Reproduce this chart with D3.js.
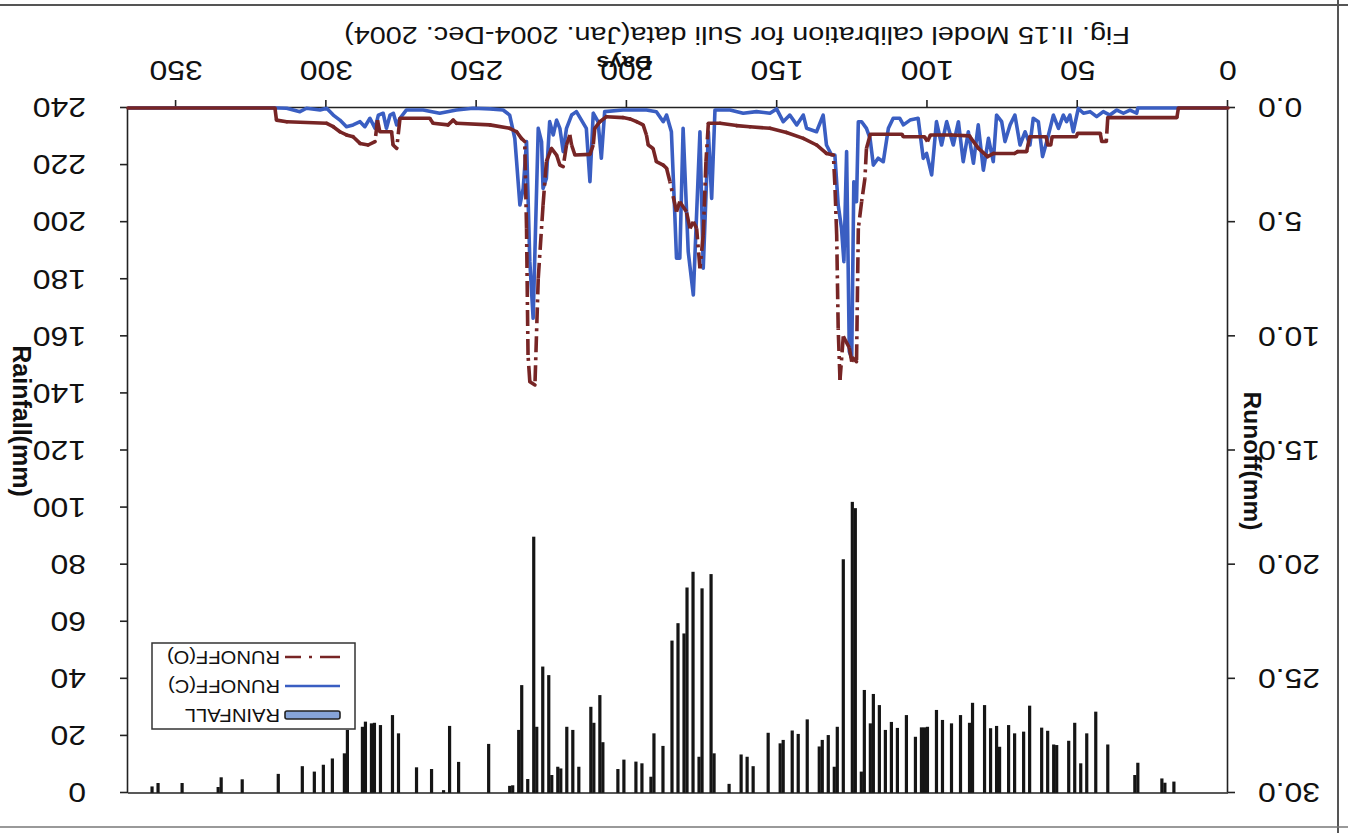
<!DOCTYPE html>
<html>
<head>
<meta charset="utf-8">
<script src="https://cdn.jsdelivr.net/npm/d3@7"></script>
<style>
  body { margin: 0; background: #ffffff; }
  svg { display: block; }
</style>
</head>
<body>
<svg id="chart" width="1348" height="833"></svg>
<script>
// ---- Daily rainfall (mm), only rainy days listed ----
const rainDays = [18,21,22,30,31,40,44,47,49,51,53,57,58,60,62,66,68,71,73,76,77,79,81,85,86,89,92,95,97,100,101,102,104,107,110,112,114,116,118,119,121,122,124,125,128,130,131,133,135,136,140,143,145,148,149,153,158,160,162,166,171,172,175,176,178,180,181,183,185,188,191,192,195,197,201,203,208,209,211,212,216,218,220,222,223,225,226,228,230,231,233,235,236,238,239,246,256,259,261,265,270,276,278,282,284,285,287,288,293,294,298,301,304,308,316,328,335,336,348,356,358];
const rainMm = [4.0,3.6,5.1,10.6,6.3,17,28.5,20.9,10.4,24.6,18.3,16.8,17,21.8,22.9,30.6,21.5,20.9,23.8,16.2,23.5,22.7,30.8,31.6,24.6,27.3,24.4,25.6,29.1,23.2,23,23,19.7,27.3,22.8,24.9,22.1,30.8,34.7,24.4,36.1,7.5,99.8,102,81.9,23.2,9.2,20.3,18.6,16.3,25.8,20.7,21.9,18.6,17.4,21.1,9.4,12.7,13.5,3.2,13.9,76.7,71.7,12.7,77.5,72,55.9,59.5,53.4,16.5,20.9,5.7,10.4,11,11.7,8.4,17.8,34.3,24.6,30.2,9.2,22.1,23.2,8.6,9.2,6.3,41.3,44.3,23.2,89.8,4.9,37.8,22.1,2.7,2.5,17.2,10.9,23.5,1,8.4,9,20.9,27.3,23.8,24.6,24.4,25,23.2,22.1,13.9,12.1,9.9,7.5,9.4,6.7,4.8,5.5,2.1,3.5,3.5,2.3];

// ---- Observed runoff (mm): day, value ----
const obsDays = [0,16.5,17,40,40.5,42,42.5,50,50.5,58.5,59,60,60.5,66,67,70,71,78,80,83,85.5,86,92,99,100,101,108,108.5,119,120.3,120.8,121.9,123,123.6,124.7,125.2,126,128,129.1,129.7,130.2,130.8,131.3,133.6,136.9,141.3,146.9,152.4,159.1,163.5,169,172.9,173.7,174.6,175.7,176.8,177.9,179,180.2,182.4,183.5,185.7,186.8,187.9,190.2,191.3,192.9,193.5,194.6,196.8,199,201.3,206.8,209,210.7,211.2,212.3,217.3,218.4,219,220.1,221.2,222.3,223.4,225.1,226.8,227.9,229.5,230.6,232.3,232.9,233.4,234,235.1,236.7,239,245.6,256.7,257.8,259.5,264.5,265.6,275.5,276.6,277.8,278.3,282.2,283,283.8,286.1,288.8,291.1,293.3,295.5,297.7,299.9,313.2,316.6,317.1,366];
const obsRunoff = [0,0,0.42,0.42,1.47,1.47,1.11,1.11,1.26,1.26,1.62,1.62,1.26,1.26,1.91,1.91,1.99,1.99,2.13,1.77,1.33,1.22,1.18,1.18,1.47,1.26,1.26,1.15,1.15,1.77,3.08,4.1,5.27,11.11,10.96,11.11,10.5,10.0,11.91,9.65,5.56,3.37,2.06,1.99,1.62,1.33,1.07,0.89,0.82,0.77,0.67,0.67,2.35,5.56,7.02,5.27,4.98,5.27,4.54,4.1,4.54,3.22,2.64,2.5,2.35,1.77,1.62,1.18,0.74,0.6,0.48,0.42,0.38,0.6,0.89,1.62,2.03,2.06,1.62,1.18,1.62,2.57,2.5,2.06,1.77,2.35,4.25,7.46,12.13,11.99,10.82,5.27,1.47,1.33,1.04,0.89,0.74,0.67,0.53,0.74,0.67,0.45,0.45,1.77,1.62,1.04,1.04,0.53,1.47,1.62,1.55,1.26,1.18,1.04,0.82,0.67,0.6,0.53,0,0];

// ---- Computed runoff (mm): day, value ----
const calDays = [0,30,30.4,32.6,34.8,37,39.3,41.5,43.7,45.9,48.1,49.8,51.5,52.6,53.7,54.8,56.4,58.1,60.3,61.7,63.1,64.8,65.9,67.5,69.2,70.9,72.5,74.2,75.3,77,78.1,79.7,81.4,83.1,84.7,86.4,88.1,89.7,91.4,93.6,95.3,97,98.6,100.3,101.4,103.1,105.8,108,109.2,111.4,113,114.7,116.4,118,119.1,120.3,121.9,123,123.6,124.5,125.2,126,126.9,127.8,128.6,129.7,130.8,131.9,133.6,134.7,136.9,140.2,141.3,143.5,145.8,148,150.2,152.4,156.9,161.3,165.7,170.7,171.8,172.9,174.6,175.7,177.9,179.6,181.3,182.4,183.5,184.1,185.2,186.8,187.9,190.2,193.5,201.3,207.4,208.5,209.6,211.2,212.3,213.5,216.8,218.4,220.1,221.2,222.3,223.4,224.5,225.7,226.8,227.9,228.4,229.5,231.2,232.3,233.4,234.5,235.6,236.7,237.3,239,241.2,245.6,251.2,256.7,262.3,267.8,273.4,275.5,276.6,277.7,278.8,280,281.1,282.7,283.8,285.5,287.2,288.8,291.1,293.3,295.5,297.7,299.9,302.1,306.6,308.8,313.2,316,366];
const calRunoff = [0,0,0.23,0.09,0.23,0.09,0.31,0.16,0.38,0.16,0.23,0.02,1.04,0.31,0.6,0.31,0.89,0.31,1.47,2.13,0.6,0.45,1.62,1.04,1.62,0.31,0.74,1.47,0.6,0.31,2.35,1.33,2.72,0.74,2.42,1.04,2.35,0.6,1.62,0.6,1.62,0.6,2.93,1.99,2.2,0.45,0.53,0.74,0.45,0.45,0.89,2.35,2.2,2.5,1.33,0.89,0.6,0.6,4.1,3.23,10.96,10.67,1.91,6.73,5.27,4.25,2.06,2.06,1.62,0.31,1.04,0.89,0.31,0.74,0.31,0.6,0.04,0.23,0.16,0.23,0.09,0.09,3.96,1.04,7.02,1.04,8.19,6.29,0.89,6.58,6.58,4.54,1.04,0.31,0.6,0.16,0.09,0.09,0.16,2.2,0.6,0.23,3.23,0.89,0.16,0.31,0.89,1.91,0.89,0.53,1.18,0.6,3.08,3.52,1.47,0.89,9.21,6.73,1.47,3.52,4.25,2.35,1.33,0.31,0.09,0.04,0.01,0.09,0.23,0.09,0.09,0.45,0.74,0.23,0.31,0.89,0.23,0.31,0.89,0.45,0.82,0.6,0.74,0.82,0.53,0.31,0.01,0.09,0.01,0.16,0.01,0,0];

// ---- Axis ticks ----
const dayTicks = [0,50,100,150,200,250,300,350];
const runoffTicks = [0,5,10,15,20,25,30];
const runoffLabels = ["0.0","5.0","10.0","15.0","20.0","25.0","30.0"];
const rainTicks = [0,20,40,60,80,100,120,140,160,180,200,220,240];

const legendLabels = ["RAINFALL","RUNOFF(C)","RUNOFF(O)"];
const titleText = "Fig. II.15  Model calibration for Suli data(Jan. 2004-Dec. 2004)";

// ---- Layout ----
const W = 1348, H = 833;
const plot = { left: 120, right: 1220, top: 40, bottom: 725 };
const FONT = "'Liberation Sans', Arial, sans-serif";
const SX = 1.18;              // horizontal stretch of lettering
const BLUE = "#3a5ec2";
const RED = "#772525";

const svg = d3.select("#chart");
svg.append("rect").attr("width", W).attr("height", H).attr("fill", "#fff");

// the whole figure is printed upside down
const root = svg.append("g").attr("transform", `rotate(180 ${W / 2} ${H / 2})`);

const x = d3.scaleLinear().domain([0, 366]).range([plot.left, plot.right]);
const yRun = d3.scaleLinear().domain([0, 30]).range([plot.bottom, plot.top]);
const yRain = d3.scaleLinear().domain([0, 240]).range([plot.top, plot.bottom]);

// page frame lines
root.append("line").attr("x1", 10).attr("x2", 10).attr("y1", 0).attr("y2", H)
  .attr("stroke", "#555").attr("stroke-width", 2);
root.append("line").attr("x1", 0).attr("x2", W).attr("y1", 828).attr("y2", 828)
  .attr("stroke", "#555").attr("stroke-width", 2);
root.append("line").attr("x1", 0).attr("x2", W).attr("y1", 6).attr("y2", 6)
  .attr("stroke", "#777").attr("stroke-width", 1.5);

function label(g, px, py, str, opt = {}) {
  const sx = opt.sx ?? SX;
  const rot = opt.rotate ? ` rotate(${opt.rotate})` : "";
  return g.append("text")
    .attr("transform", `translate(${px},${py})${rot} scale(${sx},1)`)
    .attr("text-anchor", opt.anchor || "middle")
    .attr("dy", "0.36em")
    .attr("font-family", FONT)
    .attr("font-size", opt.size || 26)
    .attr("font-weight", opt.weight || "normal")
    .attr("fill", "#111")
    .text(str);
}

// ---- Rainfall bars hanging from the top ----
const barW = 3.2;
root.append("g").selectAll("rect")
  .data(rainDays.map((d, i) => ({ day: d, mm: rainMm[i] })))
  .join("rect")
  .attr("x", d => x(d.day) - barW / 2)
  .attr("y", yRain(0))
  .attr("width", barW)
  .attr("height", d => yRain(d.mm) - yRain(0))
  .attr("fill", "#151515");

// ---- Axes ----
const axisStyle = g => {
  g.selectAll("path, line").attr("stroke", "#222").attr("stroke-width", 1.6);
  g.selectAll("text").remove();
};
root.append("g").attr("transform", `translate(${plot.left},0)`)
  .call(d3.axisLeft(yRun).tickValues(runoffTicks).tickSize(7).tickSizeOuter(0))
  .call(axisStyle);
root.append("g").attr("transform", `translate(${plot.right},0)`)
  .call(d3.axisRight(yRain).tickValues(rainTicks).tickSize(8).tickSizeOuter(0))
  .call(axisStyle);
root.append("g").attr("transform", `translate(0,${plot.bottom})`)
  .call(d3.axisBottom(x).tickValues(dayTicks).tickSize(8).tickSizeOuter(0))
  .call(axisStyle);
root.append("line")
  .attr("x1", plot.left).attr("x2", plot.right)
  .attr("y1", plot.top).attr("y2", plot.top)
  .attr("stroke", "#222").attr("stroke-width", 1.6);

// tick labels
runoffTicks.forEach((v, i) => label(root, 90, yRun(v), runoffLabels[i], { anchor: "end", size: 27 }));
rainTicks.forEach(v => label(root, 1262, yRain(v), String(v), { anchor: "start", size: 27 }));
dayTicks.forEach(v => label(root, x(v), 762, String(v), { size: 27 }));

// axis titles
label(root, 95, 372, "Runoff(mm)", { rotate: -90, size: 24.5, weight: "bold", sx: 1 });
label(root, 1326, 412, "Rainfall(mm)", { rotate: -90, size: 25, weight: "bold", sx: 1 });
label(root, 724, 769, "Days", { size: 21, weight: "bold", sx: 1.1 });
label(root, 611, 797, titleText, { size: 24, sx: 1.2 });

// ---- Runoff lines ----
const calPts = calDays.map((d, i) => [x(d), yRun(calRunoff[i])]);
const obsPts = obsDays.map((d, i) => [x(d), yRun(obsRunoff[i])]);

root.append("path")
  .attr("d", d3.line()(calPts))
  .attr("fill", "none").attr("stroke", BLUE)
  .attr("stroke-width", 3.6).attr("stroke-linejoin", "round");

// observed series: each segment drawn on its own, steep ones show the dash-dot pattern
const obsG = root.append("g");
for (let i = 1; i < obsPts.length; i++) {
  const [x0, y0] = obsPts[i - 1], [x1, y1] = obsPts[i];
  const steep = Math.abs(y1 - y0) > Math.abs(x1 - x0) * 1.5;
  obsG.append("path")
    .attr("d", d3.line()([obsPts[i - 1], obsPts[i]]))
    .attr("fill", "none").attr("stroke", RED)
    .attr("stroke-width", 3.6).attr("stroke-linecap", steep ? "butt" : "round")
    .attr("stroke-dasharray", steep ? "16,5,3,5" : null);
}

// ---- Legend ----
const lg = root.append("g");
lg.append("rect").attr("x", 993).attr("y", 104).attr("width", 203).attr("height", 86)
  .attr("fill", "#fff").attr("stroke", "#333").attr("stroke-width", 1.5);
const rowY = [118, 147, 176];
lg.append("rect").attr("x", 1008).attr("y", rowY[0] - 4).attr("width", 55).attr("height", 8)
  .attr("rx", 2).attr("fill", "#86a4d8").attr("stroke", "#222").attr("stroke-width", 1.6);
lg.append("line").attr("x1", 1008).attr("x2", 1063).attr("y1", rowY[1]).attr("y2", rowY[1])
  .attr("stroke", BLUE).attr("stroke-width", 2.5);
lg.append("line").attr("x1", 1008).attr("x2", 1063).attr("y1", rowY[2]).attr("y2", rowY[2])
  .attr("stroke", RED).attr("stroke-width", 2.5).attr("stroke-dasharray", "20,8,3,8");
legendLabels.forEach((t, i) => label(lg, 1068, rowY[i], t, { anchor: "start", size: 18, sx: 1.12 }));
</script>
</body>
</html>
